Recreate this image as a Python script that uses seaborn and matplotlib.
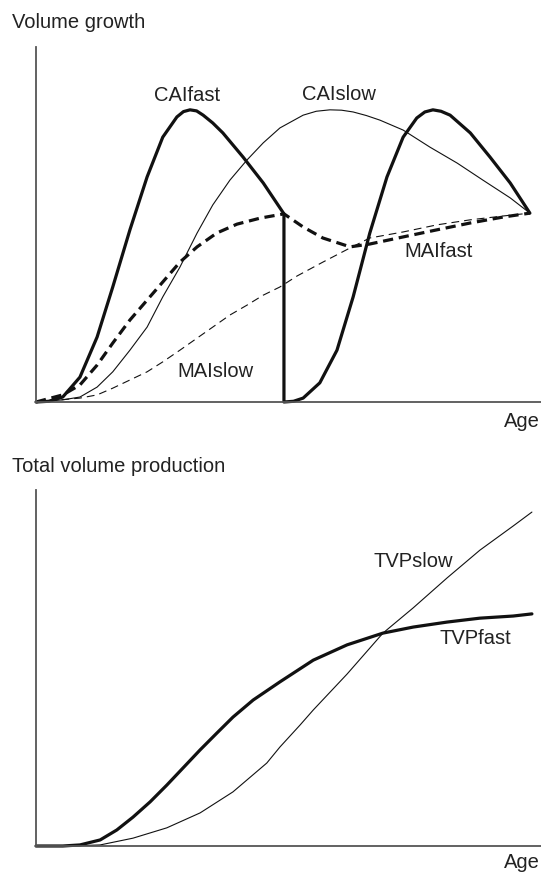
import matplotlib
matplotlib.use("Agg")
import matplotlib.pyplot as plt
import seaborn as sns

# Volume growth panel (age 0-100, growth 0-100 relative units)
cai_fast_age = [0, 2.5, 5.3, 8.7, 12.1, 15.2, 18.6, 22.0, 25.1, 27.9, 29.2, 30.5, 31.8, 33.1, 35.0, 37.0,
                41.0, 45.0, 49.1,
                49.1, 51.0, 52.9, 56.2, 59.6, 62.8, 66.1, 69.5, 72.7, 75.4, 77.0, 78.6, 80.2, 82.0,
                86.0, 89.9, 93.9, 97.8]
cai_fast = [0, 0.2, 1.4, 7.0, 18.3, 32.4, 48.5, 63.4, 74.6, 80.3, 81.8, 82.3, 82.0, 80.8, 78.6, 75.8,
            69.0, 61.7, 53.0,
            0, 0.2, 1.1, 5.4, 14.6, 29.6, 47.6, 63.4, 74.6, 80.0, 81.7, 82.3, 81.9, 80.8,
            75.8, 69.0, 61.7, 53.2]

cai_slow_age = [0, 5.3, 8.7, 12.1, 15.2, 18.6, 22.0, 25.1, 28.5, 31.9, 35.0, 38.4, 41.8, 45.0, 48.3,
                52.9, 55.5, 58.2, 60.5, 62.8, 65.4, 68.1, 72.7, 78.0, 83.4, 88.5, 93.9, 97.8]
cai_slow = [0, 0.6, 1.4, 4.2, 8.5, 14.6, 21.1, 29.6, 38.0, 47.6, 55.5, 62.5, 68.2, 73.0, 77.2,
            80.8, 81.9, 82.3, 82.2, 81.7, 80.7, 79.4, 76.6, 71.8, 67.3, 62.5, 57.5, 53.2]

mai_fast_age = [0, 5.3, 8.7, 12.1, 15.2, 18.6, 22.0, 25.1, 28.5, 31.9, 35.8, 39.8, 44.4, 49.1,
                52.9, 56.8, 62.2, 66.1, 72.7, 79.4, 85.9, 92.5, 97.8]
mai_fast = [0, 2.0, 4.8, 10.4, 16.6, 23.1, 28.7, 33.8, 39.4, 43.7, 47.6, 50.1, 51.8, 53.0,
            49.3, 46.2, 43.7, 44.5, 46.5, 48.5, 50.4, 52.1, 53.2]

mai_slow_age = [0, 8.7, 12.1, 15.2, 18.6, 22.0, 25.1, 28.5, 31.9, 35.0, 38.4, 41.8, 45.0, 48.3,
                51.7, 56.8, 62.2, 66.1, 72.7, 79.4, 85.9, 92.5, 97.8]
mai_slow = [0, 1.1, 2.0, 3.9, 6.2, 8.5, 11.3, 14.6, 18.0, 21.1, 24.5, 27.3, 30.1, 32.4,
            35.5, 39.4, 43.4, 46.2, 47.9, 49.9, 51.3, 52.4, 53.2]

# Total volume production panel
tvp_fast_age = [0, 5.3, 8.7, 12.7, 16.0, 19.2, 22.6, 25.9, 29.1, 32.5, 35.8, 39.0, 43.0, 48.3,
                54.9, 61.6, 68.7, 74.7, 81.4, 87.9, 94.5, 98.2]
tvp_fast = [0, 0, 0.3, 1.7, 4.5, 8.1, 12.4, 17.1, 21.9, 27.0, 31.7, 36.2, 41.0, 46.1,
            52.2, 56.5, 59.8, 61.5, 62.9, 64.0, 64.6, 65.2]

tvp_slow_age = [0, 6.7, 12.7, 19.2, 25.9, 32.5, 39.0, 45.7, 48.3, 52.3, 54.9, 61.6, 68.7, 74.7,
                81.4, 87.9, 94.5, 98.2]
tvp_slow = [0, 0, 0.3, 2.2, 5.1, 9.3, 15.2, 23.3, 27.8, 34.0, 38.2, 48.3, 59.8, 66.9,
            75.3, 83.1, 89.9, 93.8]

sns.set_style("white")
plt.rcParams["font.family"] = ["Liberation Sans", "DejaVu Sans"]

W, H = 541, 881
fig = plt.figure(figsize=(W / 100, H / 100), dpi=100)
ax1 = fig.add_axes([36 / W, 1 - 402 / H, 505 / W, 355 / H])
ax2 = fig.add_axes([36 / W, 1 - 846 / H, 505 / W, 356 / H])

thick = 2.3
thin = 0.8


def line(ax, x, y, lw, ls="-"):
    sns.lineplot(x=x, y=y, ax=ax, color="#111111", sort=False, estimator=None,
                 linewidth=lw, linestyle=ls, clip_on=False, legend=False,
                 solid_joinstyle="round", dash_joinstyle="round")


line(ax1, cai_fast_age, cai_fast, thick)
line(ax1, cai_slow_age, cai_slow, thin)
line(ax1, mai_fast_age, mai_fast, thick, (0, (3.2, 1.8)))
line(ax1, mai_slow_age, mai_slow, thin, (0, (7.0, 4.5)))

line(ax2, tvp_fast_age, tvp_fast, thick)
line(ax2, tvp_slow_age, tvp_slow, thin)

for ax in (ax1, ax2):
    ax.set_xlim(0, 100)
    ax.set_ylim(0, 100)
    ax.set_xticks([])
    ax.set_yticks([])
    ax.set_xlabel("")
    ax.set_ylabel("")
    ax.patch.set_alpha(0)
    for s in ("top", "right"):
        ax.spines[s].set_visible(False)
    for s in ("left", "bottom"):
        ax.spines[s].set_color("#555555")
        ax.spines[s].set_linewidth(1.3)

fs = 14.5
tc = "#222222"
ax1.text(29.9, 86.2, "CAIfast", ha="center", va="center", fontsize=fs, color=tc)
ax1.text(60.0, 86.5, "CAIslow", ha="center", va="center", fontsize=fs, color=tc)
ax1.text(79.8, 42.3, "MAIfast", ha="center", va="center", fontsize=fs, color=tc)
ax1.text(35.6, 8.5, "MAIslow", ha="center", va="center", fontsize=fs, color=tc)
ax2.text(74.7, 79.8, "TVPslow", ha="center", va="center", fontsize=fs, color=tc)
ax2.text(87.1, 58.4, "TVPfast", ha="center", va="center", fontsize=fs, color=tc)

fig.text(12 / W, 1 - 22 / H, "Volume growth", ha="left", va="center", fontsize=fs, color=tc)
fig.text(540 / W, 1 - 422 / H, "Age", ha="right", va="center", fontsize=fs, color=tc)
fig.text(12 / W, 1 - 467 / H, "Total volume production", ha="left", va="center", fontsize=fs, color=tc)
fig.text(540 / W, 1 - 862 / H, "Age", ha="right", va="center", fontsize=fs, color=tc)

fig.savefig("out.png", dpi=100)
